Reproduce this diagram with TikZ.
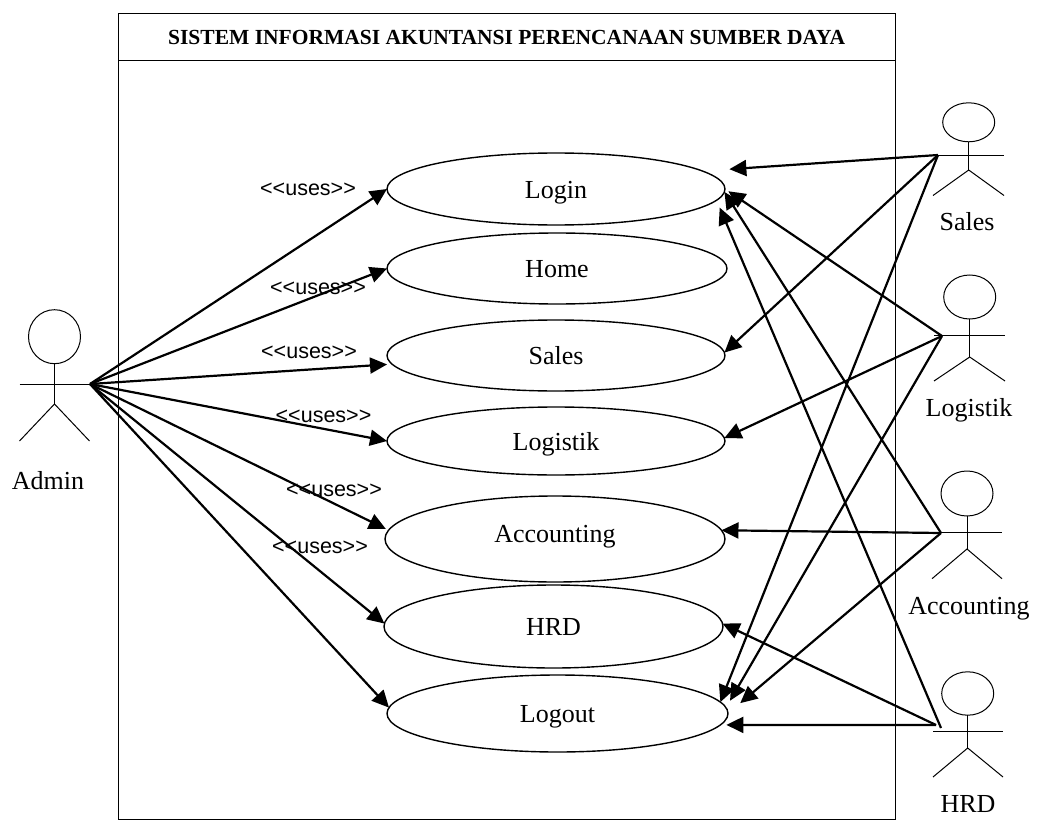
\documentclass[tikz,border=0pt]{standalone}
\usepackage{fontspec}
\setmainfont{Liberation Serif}
\setsansfont{Liberation Sans}
\usetikzlibrary{shapes.geometric,arrows.meta}
\tikzset{
  usecase/.style={draw,ellipse,inner sep=0pt,outer sep=0pt,line width=1.4pt,text height=18pt,text depth=0pt,font=\fontsize{26}{30}\selectfont},
  actorname/.style={font=\fontsize{26}{30}\selectfont},
  uses/.style={font=\sffamily\fontsize{21.5}{25}\selectfont},
  actorline/.style={line width=1pt},
  assoc/.style={-{Triangle[length=17pt,width=16pt]},line width=2.2pt}
}
\begin{document}
\begin{tikzpicture}[x=1pt,y=1pt,yscale=-1,xscale=1]
\useasboundingbox (0,0) rectangle (1038,821);

% system frame
\draw [line width=1pt] (118.5,14) rectangle (895,819);
\node [draw,line width=1pt,minimum width=776.5pt,minimum height=47pt,inner sep=0pt,font=\bfseries\fontsize{21.5}{25}\selectfont] (title) at (506.75,37.5) {SISTEM INFORMASI AKUNTANSI PERENCANAAN SUMBER DAYA};

% use cases
\node [usecase,minimum width=338pt,minimum height=72pt] (login) at (556,189) {Login};
\node [usecase,minimum width=340pt,minimum height=71pt] (home) at (557,268.5) {Home};
\node [usecase,minimum width=338pt,minimum height=71pt] (sales) at (556,355.5) {Sales};
\node [usecase,minimum width=338pt,minimum height=68pt] (logistik) at (556,441) {Logistik};
\node [usecase,minimum width=340pt,minimum height=86pt] (accounting) at (555,539) {\raisebox{6pt}{Accounting}};
\node [usecase,minimum width=339pt,minimum height=83pt] (hrd) at (553.5,626.5) {HRD};
\node [usecase,minimum width=341pt,minimum height=77pt] (logout) at (557.5,713.5) {Logout};

% admin actor
\draw [actorline] (54.5,336.7) ellipse (26 and 27);
\draw [actorline] (54.5,364) -- (54.5,404);
\draw [actorline] (19.5,384) -- (90,384);
\draw [actorline] (19.5,441) -- (54.5,404) -- (89.5,441);
\node [actorname] (adminname) at (48,481) {Admin};
\coordinate (adminhand) at (90,384);

% sales actor
\draw [actorline] (968.7,122.3) ellipse (26 and 19.5);
\draw [actorline] (968.7,142) -- (968.7,170);
\draw [actorline] (933,155.7) -- (1004,155.7);
\draw [actorline] (933,195.5) -- (968.7,170) -- (1004,195.5);
\node [actorname] (salesname) at (967,222) {Sales};
\coordinate (saleshand) at (938,155);

% logistik actor
\draw [actorline] (969.7,297) ellipse (26 and 22);
\draw [actorline] (969.7,319) -- (969.7,357);
\draw [actorline] (934,335.7) -- (1005,335.7);
\draw [actorline] (934,381) -- (969.7,357) -- (1005,381);
\node [actorname] (logistikname) at (969,410) {Logistik};
\coordinate (logistikhand) at (942,336);

% accounting actor
\draw [actorline] (967,493.5) ellipse (26 and 22.5);
\draw [actorline] (967,516) -- (967,549);
\draw [actorline] (932,532.7) -- (1002,532.7);
\draw [actorline] (932,578.7) -- (967,549) -- (1002,578.7);
\node [actorname] (accountingname) at (969,609) {Accounting};
\coordinate (accountinghand) at (941,533);

% hrd actor
\draw [actorline] (967.7,693.5) ellipse (26 and 21.7);
\draw [actorline] (967.7,715) -- (967.7,748);
\draw [actorline] (933,731.7) -- (1003,731.7);
\draw [actorline] (933,777) -- (967.7,748) -- (1003,777);
\node [actorname] (hrdname) at (968,804) {HRD};
\coordinate (hrdhand) at (936,725);
\coordinate (hrdfoot) at (941,728);

% admin part
\draw [assoc] (adminhand) -- (login.west);
\draw [assoc] (adminhand) -- (home.west);
\draw [assoc,shorten >=5pt] (adminhand) -- (sales.183);
\draw [assoc] (adminhand) -- (logistik.west);
\draw [assoc,shorten >=3pt] (adminhand) -- (accounting.177);
\draw [assoc] (adminhand) -- (hrd.179);
\draw [assoc] (adminhand) -- (logout.178);

\node [uses] (uses1) at (308,189) {<{}<uses>{}>};
\node [uses] (uses2) at (318,288) {<{}<uses>{}>};
\node [uses] (uses3) at (309,352) {<{}<uses>{}>};
\node [uses] (uses4) at (323.5,416) {<{}<uses>{}>};
\node [uses] (uses5) at (334,490) {<{}<uses>{}>};
\node [uses] (uses6) at (320,547) {<{}<uses>{}>};

% right part
\draw [assoc,shorten >=27pt] (saleshand) -- (login.7);
\draw [assoc] (saleshand) -- (sales.1);
\draw [assoc] (saleshand) -- (logout.4);

\draw [assoc,shorten >=4pt] (logistikhand) -- (login.east);
\draw [assoc] (logistikhand) -- (logistik.1);
\draw [assoc,shorten >=8pt] (logistikhand) -- (logout.2);

\draw [assoc] (accountinghand) -- (login.359);
\draw [assoc] (accountinghand) -- (accounting.3);
\draw [assoc,shorten >=16pt] (accountinghand) -- (logout.east);

\draw [assoc,shorten >=8pt] (hrdfoot) -- (login.356);
\draw [assoc] (hrdhand) -- (hrd.1);
\draw [assoc,shorten >=6pt] (hrdhand) -- (logout.356);

\end{tikzpicture}
\end{document}
